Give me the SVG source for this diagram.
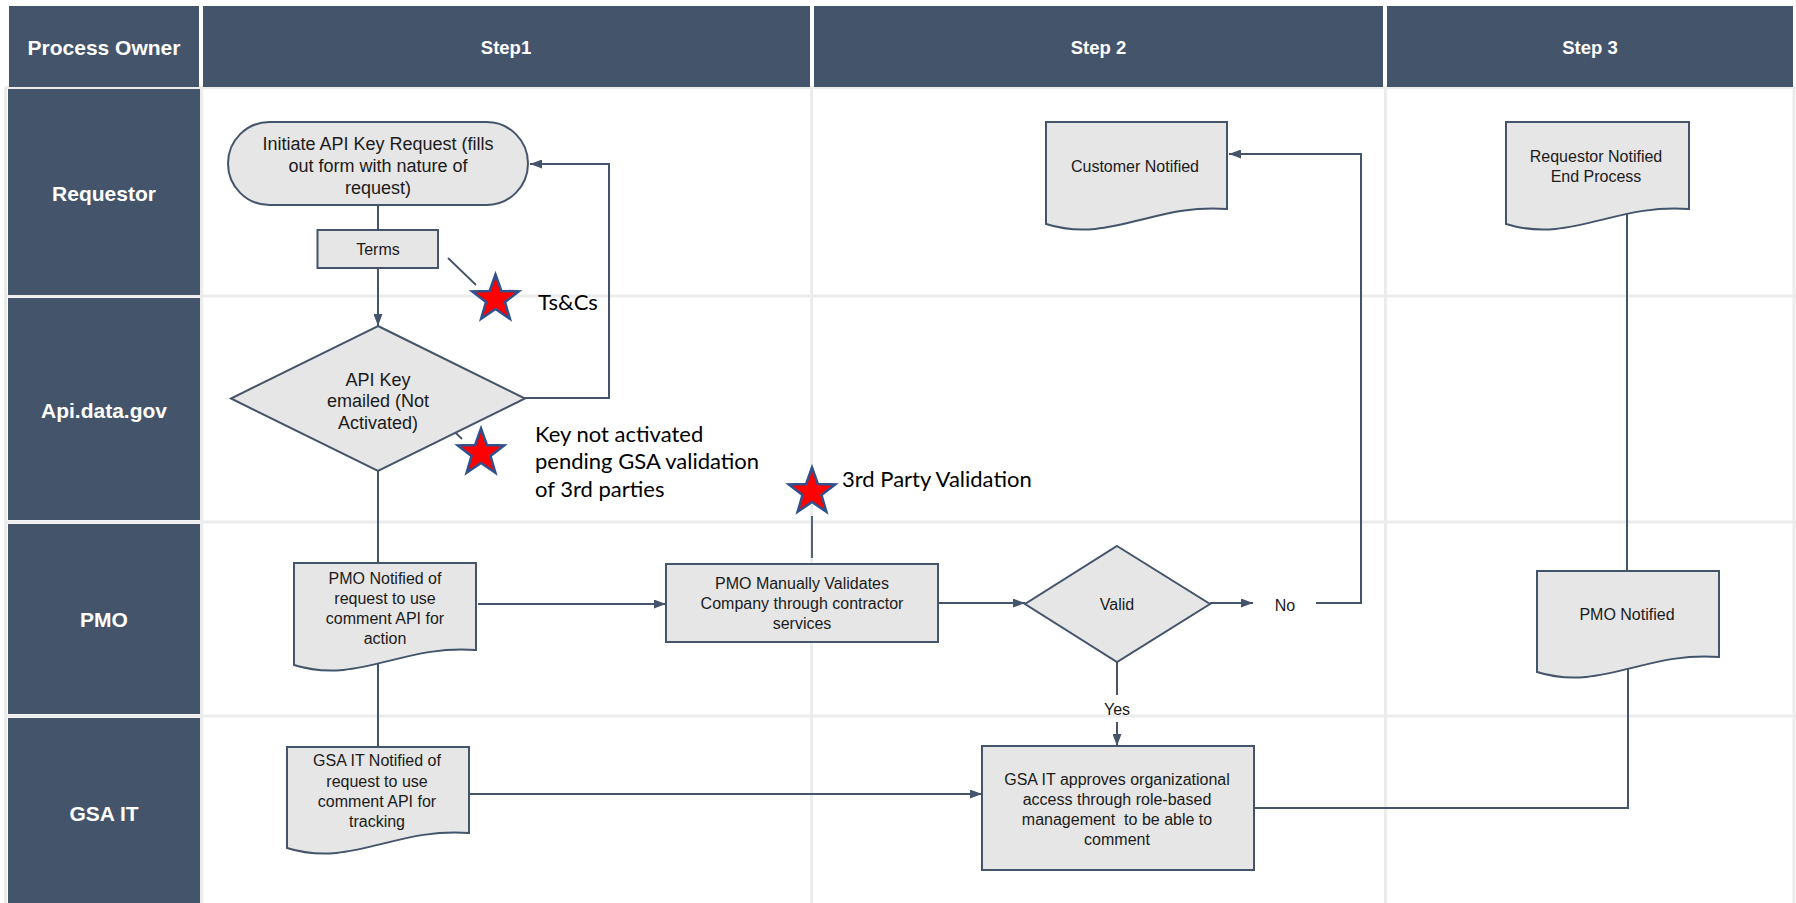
<svg xmlns="http://www.w3.org/2000/svg" width="1796" height="903" viewBox="0 0 1796 903">
<style>
.hdr{fill:#44546a}
.grid{stroke:#ececec;stroke-width:3;fill:none}
.ht{font-family:"Liberation Sans",Arial,sans-serif;font-weight:bold;fill:#ffffff;text-anchor:middle}
.node{fill:#e6e6e6;stroke:#44546a;stroke-width:2}
.nt{font-family:"Liberation Sans",Arial,sans-serif;font-size:16px;fill:#1a1a1a;text-anchor:middle}
.conn{stroke:#44546a;stroke-width:2;fill:none}
.call{stroke:#44546a;stroke-width:1.8;fill:none}
.ct{font-family:Lato,"Liberation Sans",sans-serif;font-size:22px;fill:#000000}
.star{fill:#ff0000;stroke:#2f528f;stroke-width:2.5;stroke-linejoin:miter}
</style>
<defs>
<marker id="arr" markerUnits="userSpaceOnUse" markerWidth="12" markerHeight="9" refX="12" refY="4.5" orient="auto">
<path d="M0,0 L12,4.5 L0,9 z" fill="#44546a"/>
</marker>
<path id="starShape" d="M0,-24.5 L5.88,-8.09 L23.3,-7.57 L9.51,3.09 L14.4,19.82 L0,10 L-14.4,19.82 L-9.51,3.09 L-23.3,-7.57 L-5.88,-8.09 Z"/>
</defs>
<rect width="1796" height="903" fill="#ffffff"/>
<g id="lanes">
<path class="grid" d="M5,87.5 H1796 M5,296 H1796 M5,522 H1796 M5,716 H1796 M5.5,87 V903 M201.5,87 V903 M811.5,87 V903 M1385.5,87 V903 M1794,87 V903"/>
<rect class="hdr" x="9" y="6" width="190" height="81"/>
<rect class="hdr" x="203" y="6" width="607" height="81"/>
<rect class="hdr" x="814" y="6" width="569" height="81"/>
<rect class="hdr" x="1387" y="6" width="406" height="81"/>
<rect class="hdr" x="8" y="89" width="192" height="206"/>
<rect class="hdr" x="8" y="298" width="192" height="222"/>
<rect class="hdr" x="8" y="524" width="192" height="190"/>
<rect class="hdr" x="8" y="718" width="192" height="185"/>
<text class="ht" x="104" y="54.5" font-size="21">Process Owner</text>
<text class="ht" x="506" y="53.5" font-size="18.5">Step1</text>
<text class="ht" x="1098.5" y="53.5" font-size="18.5">Step 2</text>
<text class="ht" x="1590" y="53.5" font-size="18.5">Step 3</text>
<text class="ht" x="104" y="200.5" font-size="21">Requestor</text>
<text class="ht" x="104" y="417.5" font-size="21">Api.data.gov</text>
<text class="ht" x="104" y="626.5" font-size="21">PMO</text>
<text class="ht" x="104" y="820.5" font-size="21">GSA IT</text>
</g>
<g id="connectors">
<path class="conn" d="M378,205 V230"/>
<path class="conn" d="M378,268 V326" marker-end="url(#arr)"/>
<path class="conn" d="M525,398 H609 V164 H530" marker-end="url(#arr)"/>
<path class="conn" d="M378,471 V563"/>
<path class="conn" d="M478,604 H666" marker-end="url(#arr)"/>
<path class="conn" d="M378,650 V747"/>
<path class="conn" d="M469,794 H982" marker-end="url(#arr)"/>
<path class="conn" d="M938,603 H1025" marker-end="url(#arr)"/>
<path class="conn" d="M1210,603 H1253" marker-end="url(#arr)"/>
<path class="conn" d="M1316,603 H1361 V154 H1229" marker-end="url(#arr)"/>
<path class="conn" d="M1117,662 V695"/>
<path class="conn" d="M1117,722 V746" marker-end="url(#arr)"/>
<path class="conn" d="M1254,808 H1628 V660"/>
<path class="conn" d="M1627,571 V200"/>
<path class="call" d="M448,258 L476,285"/>
<path class="call" d="M434,412 L462,439"/>
<path class="call" d="M812,516 V558"/>
<text class="nt" x="1285" y="611" font-size="17">No</text>
<text class="nt" x="1117" y="715">Yes</text>
</g>
<g id="n-initiate">
<rect class="node" x="228" y="122" width="300" height="83" rx="41.5" ry="41.5"/>
<text class="nt" style="font-size:18px"><tspan x="378" y="149.5">Initiate API Key Request (fills</tspan><tspan x="378" y="171.5">out form with nature of</tspan><tspan x="378" y="193.5">request)</tspan></text>
</g>
<g id="n-terms">
<rect class="node" x="317.5" y="230" width="120.5" height="38"/>
<text class="nt" x="378" y="255">Terms</text>
</g>
<g id="n-apikey">
<polygon class="node" points="378,326 525,398.5 378,471 231,398.5"/>
<text class="nt" style="font-size:18px"><tspan x="378" y="385.5">API Key</tspan><tspan x="378" y="407">emailed (Not</tspan><tspan x="378" y="428.5">Activated)</tspan></text>
</g>
<g id="n-customer">
<path class="node" d="M1046,122 H1227 V209 C1155.6,203 1109.4,244 1046,224 Z" transform=""/>
<text class="nt" x="1135" y="171.5" font-size="15">Customer Notified</text>
</g>
<g id="n-requestor-notified">
<path class="node" d="M1506,122 H1689 V209 C1615.8,203 1570,244 1506,224 Z"/>
<text class="nt"><tspan x="1596" y="162">Requestor Notified</tspan><tspan x="1596" y="182">End Process</tspan></text>
</g>
<g id="n-pmo-notified">
<path class="node" d="M294,563 H476 V650 C403.2,644 357.7,685 294,665 Z"/>
<text class="nt"><tspan x="385" y="584">PMO Notified of</tspan><tspan x="385" y="604">request to use</tspan><tspan x="385" y="624">comment API for</tspan><tspan x="385" y="644">action</tspan></text>
</g>
<g id="n-pmo-validates">
<rect class="node" x="666" y="564" width="272" height="78"/>
<text class="nt"><tspan x="802" y="589">PMO Manually Validates</tspan><tspan x="802" y="609">Company through contractor</tspan><tspan x="802" y="629">services</tspan></text>
</g>
<g id="n-valid">
<polygon class="node" points="1117,546 1210,604 1117,662 1025,604"/>
<text class="nt" x="1117" y="610">Valid</text>
</g>
<g id="n-pmo-notified-3">
<path class="node" d="M1537,571 H1719 V657 C1646.2,651 1600.7,692 1537,672 Z"/>
<text class="nt" x="1627" y="620">PMO Notified</text>
</g>
<g id="n-gsa-notified">
<path class="node" d="M287,747 H469 V833 C396.2,827 350.7,868 287,848 Z"/>
<text class="nt"><tspan x="377" y="766">GSA IT Notified of</tspan><tspan x="377" y="786.5">request to use</tspan><tspan x="377" y="806.5">comment API for</tspan><tspan x="377" y="826.5">tracking</tspan></text>
</g>
<g id="n-gsa-approves">
<rect class="node" x="982" y="746" width="272" height="124"/>
<text class="nt" xml:space="preserve"><tspan x="1117" y="785">GSA IT approves organizational</tspan><tspan x="1117" y="805">access through role-based</tspan><tspan x="1117" y="825">management  to be able to</tspan><tspan x="1117" y="845">comment</tspan></text>
</g>
<g id="callouts">
<use href="#starShape" class="star" transform="translate(495.5,299)"/>
<text class="ct" x="538" y="310">Ts&amp;Cs</text>
<use href="#starShape" class="star" transform="translate(481,453)"/>
<text class="ct"><tspan x="535" y="442">Key not activated</tspan><tspan x="535" y="469">pending GSA validation</tspan><tspan x="535" y="497">of 3rd parties</tspan></text>
<use href="#starShape" class="star" transform="translate(812,492)"/>
<text class="ct" x="842" y="487">3rd Party Validation</text>
</g>
</svg>
